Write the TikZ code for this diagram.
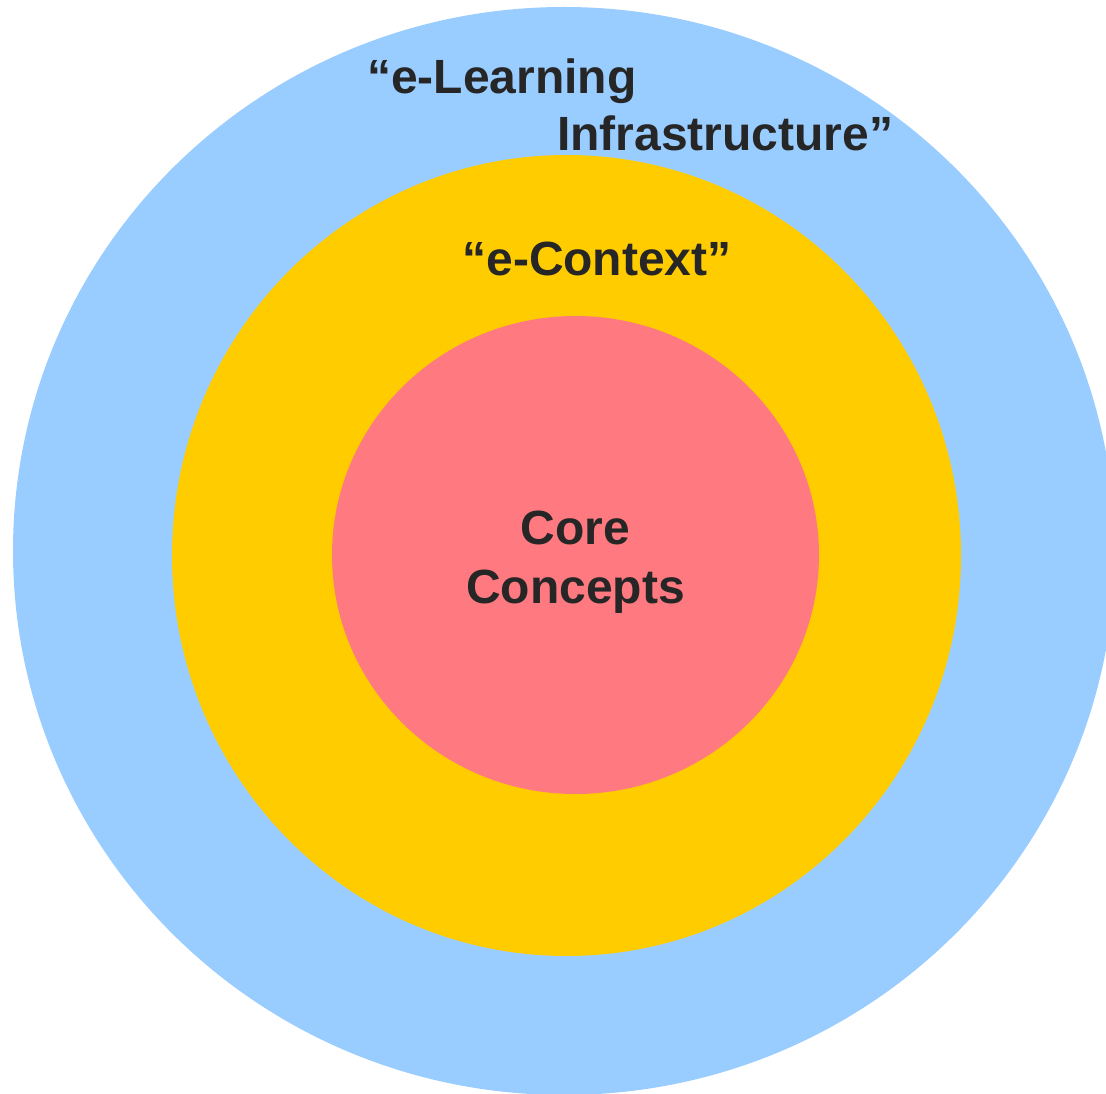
\documentclass[tikz,border=0pt]{standalone}
\usepackage{fontspec}
\setmainfont{Liberation Sans}
\usepackage{xcolor}
\definecolor{infrablue}{HTML}{99CCFF}
\definecolor{contextyellow}{HTML}{FFCC00}
\definecolor{corepink}{HTML}{FF7A80}
\definecolor{labelgray}{HTML}{262626}
\tikzset{
  ringlabel/.style={text=labelgray, font=\fontsize{48}{58}\selectfont\bfseries, inner sep=0pt}
}
\begin{document}
\begin{tikzpicture}[x=1pt, y=-1pt]
\useasboundingbox (0,0) rectangle (1106,1094);
\clip (0,0) rectangle (1106,1094);

\fill[infrablue] (564, 551) ellipse (551 and 544);
\fill[contextyellow] (566.5, 555.5) ellipse (394.5 and 400.5);
\fill[corepink] (575.5, 555) ellipse (243.5 and 239);

\node[ringlabel, anchor=base west] (learning) at (367, 94) {“e-Learning};
\node[ringlabel, anchor=base west] (infra) at (557, 151) {Infrastructure”};
\node[ringlabel, anchor=base] (context) at (597, 276) {“e-Context”};
\node[ringlabel, anchor=base] (core) at (575.5, 544) {Core};
\node[ringlabel, anchor=base] (concepts) at (575.5, 603) {Concepts};
\end{tikzpicture}
\end{document}
